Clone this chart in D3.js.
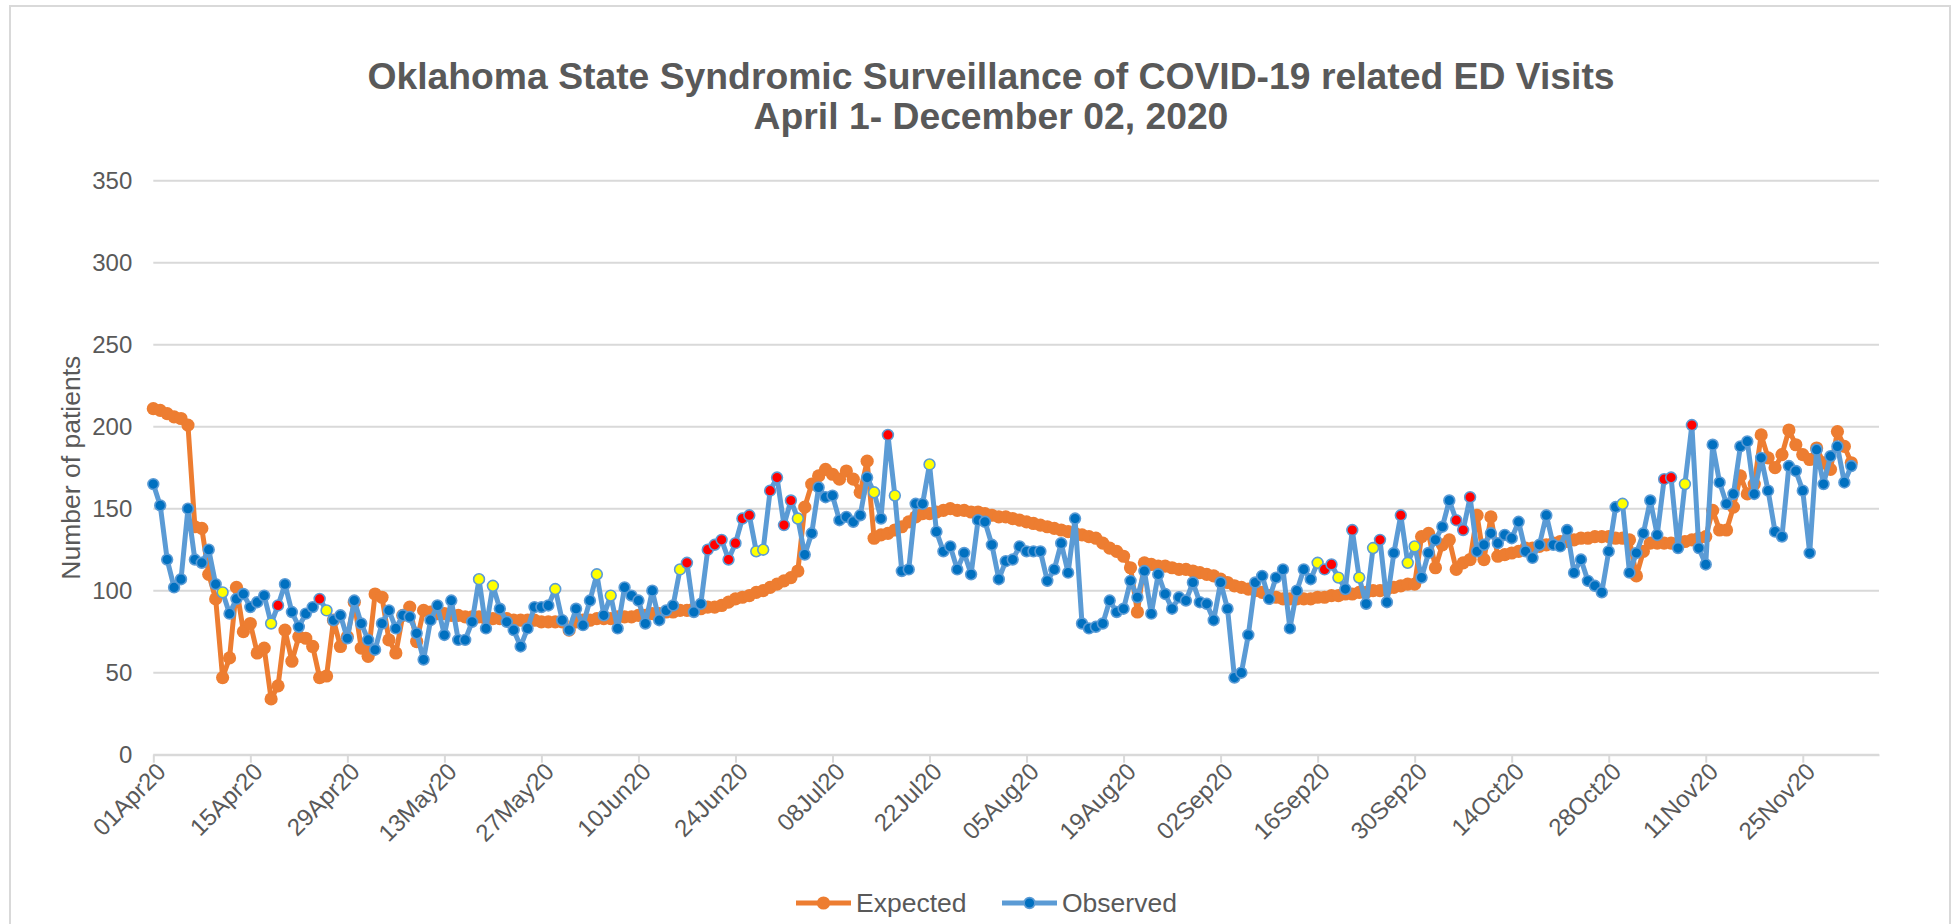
<!DOCTYPE html>
<html><head><meta charset="utf-8">
<script src="https://cdn.jsdelivr.net/npm/d3@7"></script>
<style>
body{margin:0;background:#fff}
svg{display:block;font-family:"Liberation Sans",Arial,sans-serif}
</style>
</head><body>
<svg id="chart" width="1960" height="924"></svg>
<script>
// ---------------- DATA ----------------
const startDate = "2020-04-01";
const axisEndDate = "2020-12-06";
const tickStepDays = 14;
const yTicks = [0, 50, 100, 150, 200, 250, 300, 350];
const titleLines = ["Oklahoma State Syndromic Surveillance of COVID-19 related ED Visits", "April 1- December 02, 2020"];
const yAxisTitle = "Number of patients";
const seriesNames = ["Expected", "Observed"];

// daily values, 01Apr20 .. 02Dec20
const expected = [
211,210,208,206,205,201,139,138,110,95,47,59,102,75,80,62,65,34,42,76,
57,72,71,66,47,48,82,66,72,93,65,60,98,96,70,62,85,90,69,88,
87,86,86,85,85,84,84,84,83,83,83,83,82,82,82,82,81,81,81,81,
76,81,82,82,83,83,83,84,84,84,85,85,86,86,87,87,88,88,89,89,
90,90,91,93,95,96,97,99,100,102,104,106,108,112,151,165,170,174,171,168,
173,168,160,179,132,134,135,137,139,142,145,147,147,148,149,150,149,149,148,148,
147,146,145,145,144,143,142,141,140,139,138,137,136,135,134,133,132,129,126,124,
121,114,87,117,116,115,115,114,113,113,112,111,110,109,107,105,103,102,101,100,
99,97,96,95,95,95,95,95,96,96,97,97,98,98,99,99,100,100,101,102,
103,104,104,133,135,114,128,131,113,117,119,146,119,145,121,122,123,124,126,126,
127,128,129,130,130,131,132,132,133,133,133,132,132,131,109,124,129,129,129,129,
129,130,131,132,133,149,137,137,151,170,159,165,195,181,175,183,198,189,183,180,
187,178,174,197,188,178
];
const observed = [
165,152,119,102,107,150,119,117,125,104,99,86,95,98,90,93,97,80,91,104,
87,78,86,90,95,88,82,85,71,94,80,70,64,80,88,77,85,84,74,58,
82,91,73,94,70,70,81,107,77,103,89,81,76,66,77,90,90,91,101,82,
76,89,79,94,110,85,97,77,102,97,94,80,100,82,88,91,113,117,87,92,
125,128,131,119,129,144,146,124,125,161,169,140,155,144,122,135,163,157,158,143,
145,142,146,169,160,144,195,158,112,113,153,153,177,136,124,127,113,123,110,143,
142,128,107,118,119,127,124,124,124,106,113,129,111,144,80,77,78,80,94,87,
89,106,96,112,86,110,98,89,96,94,105,93,92,82,105,89,47,50,73,105,
109,95,108,113,77,100,113,107,117,113,116,108,101,137,108,92,126,131,93,123,
146,117,127,108,123,131,139,155,143,137,157,124,128,135,129,134,132,142,124,120,
128,146,128,127,137,111,119,106,103,99,124,151,153,111,123,135,155,134,168,169,
126,165,201,126,116,189,166,153,159,188,191,159,181,161,136,133,176,173,161,123,
186,165,182,188,166,176
];
// day indices (0 = 01Apr20) of flagged observed values
const redAlertDays = [18,24,77,80,81,82,83,84,85,86,89,90,91,92,106,169,170,173,177,180,188,189,190,218,219,222];
const yellowAlertDays = [10,17,25,47,49,58,64,66,76,87,88,93,104,107,112,168,171,174,176,181,182,212,221];

// ---------------- CHART ----------------
const svg = d3.select("#chart");
const W = 1960, H = 924;
const parse = d3.timeParse("%Y-%m-%d");
const t0 = parse(startDate);
const dayMs = 864e5;
const dateOf = i => new Date(t0.getTime() + i * dayMs);

const colors = {
  expected: "#ED7D31", obsLine: "#5B9BD5", obsFill: "#0070C0",
  red: "#FF0000", yellow: "#FFFF00", grid: "#D9D9D9", text: "#595959"
};

svg.append("rect").attr("x", 0).attr("y", 0).attr("width", W).attr("height", H).attr("fill", "#fff");
svg.append("rect").attr("x", 10).attr("y", 6).attr("width", 1940).attr("height", 940)
  .attr("fill", "none").attr("stroke", colors.grid).attr("stroke-width", 2);

const m = {left: 153.3, right: 1879, top: 180.7, bottom: 754.7};
const x = d3.scaleTime().domain([t0, parse(axisEndDate)]).range([m.left, m.right]);
const y = d3.scaleLinear().domain([0, 350]).range([m.bottom, m.top]);

// title
const title = svg.append("g").attr("fill", colors.text).attr("font-weight", "bold")
  .attr("font-size", 37.3).attr("text-anchor", "middle");
title.append("text").attr("x", 991).attr("y", 89).text(titleLines[0]);
title.append("text").attr("x", 991).attr("y", 129).text(titleLines[1]);

// gridlines
svg.append("g").selectAll("line").data(yTicks).join("line")
  .attr("x1", m.left).attr("x2", m.right)
  .attr("y1", d => y(d)).attr("y2", d => y(d))
  .attr("stroke", colors.grid).attr("stroke-width", 2);

// y axis labels
const yAxis = d3.axisLeft(y).tickValues(yTicks).tickSize(0).tickPadding(21);
const gy = svg.append("g").attr("transform", `translate(${m.left},0)`).call(yAxis);
gy.select(".domain").remove();
gy.selectAll("text").attr("fill", colors.text).attr("font-size", 24)
  .attr("font-family", '"Liberation Sans",Arial,sans-serif');

// x axis
const xTickDates = d3.range(0, 246, tickStepDays).map(dateOf);
const xAxis = d3.axisBottom(x).tickValues(xTickDates).tickFormat(d3.timeFormat("%d%b%y")).tickSize(8).tickSizeOuter(0);
const gx = svg.append("g").attr("transform", `translate(0,${m.bottom})`).call(xAxis);
gx.select(".domain").attr("stroke", colors.grid).attr("stroke-width", 2);
gx.selectAll(".tick line").attr("stroke", colors.grid).attr("stroke-width", 2);
gx.selectAll("text").attr("fill", colors.text).attr("font-size", 24)
  .attr("font-family", '"Liberation Sans",Arial,sans-serif')
  .attr("text-anchor", "end").attr("dy", "0.35em")
  .attr("transform", "translate(-1,4) rotate(-45)").attr("y", 12).attr("x", 0);

// y axis title
svg.append("text").attr("transform", `translate(71,${(m.top + m.bottom) / 2}) rotate(-90)`)
  .attr("text-anchor", "middle").attr("dy", "0.35em").attr("fill", colors.text)
  .attr("font-size", 26.5).text(yAxisTitle);

// series
const expData = expected.map((v, i) => ({d: dateOf(i), v}));
const obsData = observed.map((v, i) => ({d: dateOf(i), v, i}));
const line = d3.line().x(p => x(p.d)).y(p => y(p.v));

svg.append("path").datum(expData).attr("d", line).attr("fill", "none")
  .attr("stroke", colors.expected).attr("stroke-width", 5).attr("stroke-linejoin", "round");
svg.append("g").selectAll("circle").data(expData).join("circle")
  .attr("cx", p => x(p.d)).attr("cy", p => y(p.v)).attr("r", 6.6).attr("fill", colors.expected);

svg.append("path").datum(obsData).attr("d", line).attr("fill", "none")
  .attr("stroke", colors.obsLine).attr("stroke-width", 5).attr("stroke-linejoin", "round");
const redSet = new Set(redAlertDays), yellowSet = new Set(yellowAlertDays);
svg.append("g").selectAll("circle").data(obsData).join("circle")
  .attr("cx", p => x(p.d)).attr("cy", p => y(p.v)).attr("r", 5.4)
  .attr("fill", p => redSet.has(p.i) ? colors.red : yellowSet.has(p.i) ? colors.yellow : colors.obsFill)
  .attr("stroke", colors.obsLine).attr("stroke-width", 1.6);

// legend
const lg = svg.append("g").attr("font-size", 26.5).attr("fill", colors.text);
const legendItems = [
  {name: seriesNames[0], x0: 796, color: colors.expected, fill: colors.expected, stroke: "none", r: 6.6},
  {name: seriesNames[1], x0: 1002, color: colors.obsLine, fill: colors.obsFill, stroke: colors.obsLine, r: 5.4}
];
legendItems.forEach(it => {
  lg.append("line").attr("x1", it.x0).attr("x2", it.x0 + 55).attr("y1", 903).attr("y2", 903)
    .attr("stroke", it.color).attr("stroke-width", 5);
  lg.append("circle").attr("cx", it.x0 + 27.5).attr("cy", 903).attr("r", it.r)
    .attr("fill", it.fill).attr("stroke", it.stroke).attr("stroke-width", 1.6);
  lg.append("text").attr("x", it.x0 + 60).attr("y", 903).attr("dy", "0.35em").text(it.name);
});
</script>
</body></html>
